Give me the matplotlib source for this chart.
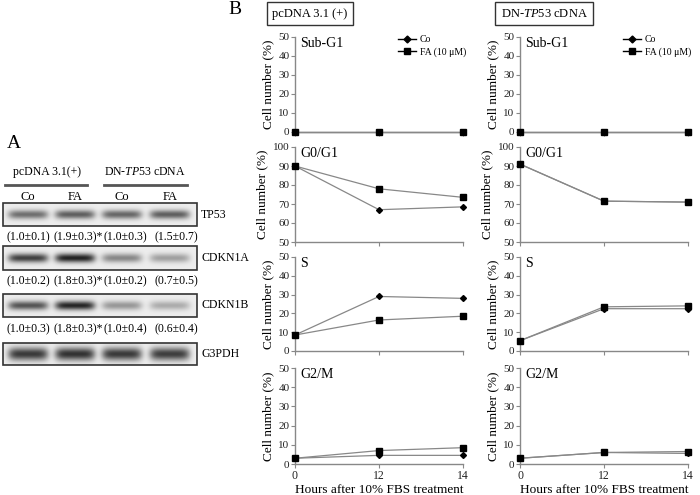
import numpy as np
import matplotlib
matplotlib.use("Agg")
import matplotlib.pyplot as plt
from matplotlib.patches import Rectangle
from matplotlib.lines import Line2D

plt.rcParams['font.family'] = 'serif'
plt.rcParams['font.serif'] = ['Liberation Serif', 'DejaVu Serif']
plt.rcParams['mathtext.fontset'] = 'custom'
plt.rcParams['mathtext.rm'] = 'Liberation Serif'
plt.rcParams['mathtext.it'] = 'Liberation Serif:italic'

# ---- datos panel B (ciclo celular, %) ----
horas = ["0", "12", "14"]
fases = ["Sub-G1", "G0/G1", "S", "G2/M"]
rangos = [(0, 50), (50, 100), (0, 50), (0, 50)]

pc_co = [[0, 0, 0], [90, 67, 68.5], [8.5, 29, 28], [3, 4.5, 4.5]]
pc_fa = [[0, 0, 0], [90, 78, 73.5], [8.5, 16.5, 18.5], [3, 7, 8.5]]
dn_co = [[0, 0, 0], [91, 71.5, 71], [5.5, 22.5, 22.5], [3, 6, 5.5]]
dn_fa = [[0, 0, 0], [91, 71.5, 71], [5.5, 23.5, 24], [3, 6, 6.5]]

# ---- datos panel A (western blot) ----
proteinas = ["TP53", "CDKN1A", "CDKN1B", "G3PDH"]
intensidad = [[0.62, 0.70, 0.66, 0.70],
              [0.85, 1.00, 0.50, 0.38],
              [0.75, 0.98, 0.42, 0.32],
              [0.88, 0.92, 0.88, 0.86]]
cuantif = [["(1.0±0.1)", "(1.9±0.3)*", "(1.0±0.3)", "(1.5±0.7)"],
           ["(1.0±0.2)", "(1.8±0.3)*", "(1.0±0.2)", "(0.7±0.5)"],
           ["(1.0±0.3)", "(1.8±0.3)*", "(1.0±0.4)", "(0.6±0.4)"]]
carriles = ["Co", "FA", "Co", "FA"]

W, H = 700, 495
fig = plt.figure(figsize=(7, 4.95), dpi=100)


def px(l, t, r, b):
    return [l / W, 1 - b / H, (r - l) / W, (b - t) / H]


# capa de fondo en pixeles
ax0 = fig.add_axes([0, 0, 1, 1])
ax0.set_xlim(0, W)
ax0.set_ylim(H, 0)
ax0.axis('off')

# ---------------- Panel A ----------------
ax0.text(7, 143, "A", fontsize=14, va='center', ha='left')
ax0.text(47, 172, "pcDNA 3.1(+)", fontsize=8.5, ha='center', va='center')
ax0.text(145, 172, r"DN-$\mathit{TP53}$ cDNA", fontsize=8.5, ha='center', va='center')
ax0.plot([5, 87], [185, 185], color='#555555', lw=2)
ax0.plot([104, 187], [185, 185], color='#555555', lw=2)
centros = [28, 75, 122, 170]
for c, lab in zip(centros, carriles):
    ax0.text(c, 197, lab, fontsize=9, ha='center', va='center')

cajas = [(203, 226), (246, 270), (294, 317), (343, 365)]
fila_txt = [237, 281, 329]
for i, (t, b) in enumerate(cajas):
    xs = np.linspace(3, 197, 300)
    ys = np.linspace(t, b, 60)
    X, Y = np.meshgrid(xs, ys)
    yc = (t + b) / 2
    sy = 4.5 if i < 3 else 6.5
    osc = np.zeros_like(X)
    for c, v in zip(centros, intensidad[i]):
        osc += v * np.exp(-((X - c) / 20) ** 6) * np.exp(-((Y - yc) / sy) ** 2)
    img = np.clip(0.93 - 0.8 * osc, 0, 1)
    ax0.imshow(img, cmap='gray', vmin=0, vmax=1, extent=(3, 197, b, t),
               aspect='auto', interpolation='bilinear', origin='upper')
    ax0.add_patch(Rectangle((3, t), 194, b - t, fill=False, ec='#333333', lw=1.2))
    ax0.text(201, (t + b) / 2, proteinas[i], fontsize=8.5, ha='left', va='center')
    if i < 3:
        for c, s in zip([28, 78, 125, 176], cuantif[i]):
            ax0.text(c, fila_txt[i], s, fontsize=8.5, ha='center', va='center')
ax0.set_xlim(0, W)
ax0.set_ylim(H, 0)

# ---------------- Panel B ----------------
ax0.text(228, 10, "B", fontsize=14, va='center', ha='left')
ax0.add_patch(Rectangle((267, 2), 86, 23, fill=False, ec='#333333', lw=1))
ax0.text(310, 14, "pcDNA 3.1 (+)", fontsize=9, ha='center', va='center')
ax0.add_patch(Rectangle((495, 2), 98, 23, fill=False, ec='#333333', lw=1))
ax0.text(544, 14, r"DN-$\mathit{TP53}$ cDNA", fontsize=9, ha='center', va='center')

filas = [(37, 132), (147, 242), (257, 351), (368, 464)]
columnas = [(295, 463, pc_co, pc_fa), (520, 688, dn_co, dn_fa)]
gris = '#888888'
x = np.arange(len(horas))

for l, r, co, fa in columnas:
    for k, (t, b) in enumerate(filas):
        ax = fig.add_axes(px(l, t, r, b))
        ax.patch.set_alpha(0)
        ax.plot(x, co[k], color=gris, lw=0.9, marker='D', ms=3, mfc='black',
                mec='black', clip_on=False, zorder=3)
        ax.plot(x, fa[k], color=gris, lw=0.9, marker='s', ms=4, mfc='black',
                mec='black', clip_on=False, zorder=3)
        ax.set_xlim(0, 2)
        ax.set_ylim(*rangos[k])
        ax.set_yticks(np.arange(rangos[k][0], rangos[k][1] + 1, 10))
        ax.set_xticks(x)
        for s in ['top', 'right']:
            ax.spines[s].set_visible(False)
        for s in ['left', 'bottom']:
            ax.spines[s].set_color(gris)
            ax.spines[s].set_linewidth(1)
        ax.tick_params(axis='y', labelsize=8, colors='#222222', length=3,
                       width=0.8, color=gris, pad=1)
        ax.tick_params(axis='x', labelsize=8.5, colors='#222222', length=3,
                       width=0.8, color=gris, pad=1)
        if k < 3:
            ax.set_xticklabels([])
        else:
            ax.set_xticklabels(horas)
            ax.set_xlabel("Hours after 10% FBS treatment", fontsize=9.5, labelpad=2)
        ax.set_ylabel("Cell number (%)", fontsize=9.5, labelpad=3)
        ax.text(0.03, 1.0, fases[k], transform=ax.transAxes, fontsize=10,
                ha='left', va='top')
        if k == 0:
            hs = [Line2D([], [], color='black', lw=1, marker='D', ms=3.5),
                  Line2D([], [], color='black', lw=1, marker='s', ms=4)]
            ax.legend(hs, ["Co", "FA (10 μM)"], loc='upper right',
                      bbox_to_anchor=(1.07, 1.11), frameon=False, fontsize=7,
                      handlelength=1.8, handletextpad=0.4, labelspacing=0.3)

fig.savefig("out.png", dpi=100)
